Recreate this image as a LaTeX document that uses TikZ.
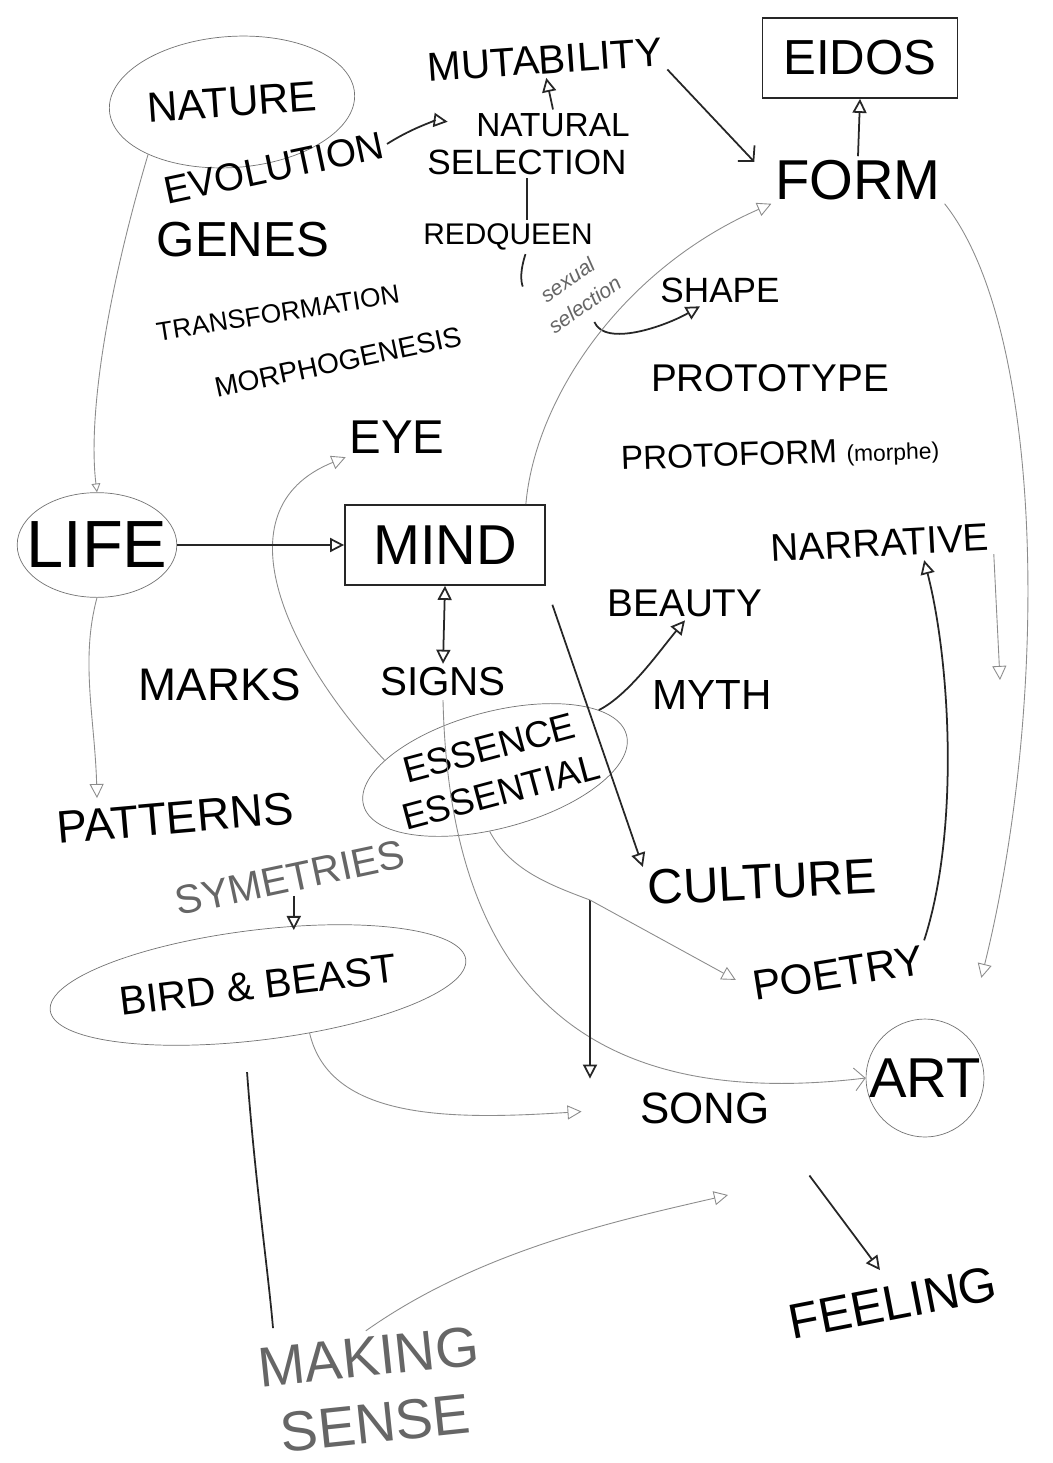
\documentclass[tikz,border=0pt]{standalone}
\usepackage{fontspec}
\setmainfont{Liberation Sans}
\usetikzlibrary{arrows.meta,shapes.geometric}

\begin{document}
\begin{tikzpicture}[
    x=0.02cm, y=-0.02cm,
    word/.style={font=\fontsize{#1}{#1}\selectfont, inner sep=2pt},
    faint/.style={text=black!60},
    ink/.style={draw=black!85, line width=1pt},
    pencil/.style={draw=black!45, line width=0.5pt},
    tri/.style={-{Triangle[open, length=8pt, width=8pt]}},
    dtri/.style={{Triangle[open, length=8pt, width=8pt]}-{Triangle[open, length=8pt, width=8pt]}},
    barb/.style={-{Straight Barb[length=6pt, width=13pt]}}
]
    \useasboundingbox (0,0) rectangle (1052,1463);
    \fill[white] (0,0) rectangle (1052,1463);

    % Nodes, top
    \node[word=24, draw=black!55, ellipse, inner xsep=1pt, inner ysep=18pt, rotate=4] (nature) at (232,102) {NATURE};
    \node[word=22, rotate=12] (evolution) at (274,168) {EVOLUTION};
    \node[word=28] (genes) at (243,240) {GENES};
    \node[word=15, rotate=9] (transf) at (278,313) {TRANSFORMATION};
    \node[word=16, rotate=12] (morpho) at (338,362) {MORPHOGENESIS};
    \node[word=23, rotate=4] (mutab) at (545,60) {MUTABILITY};
    \node[word=19] (natural) at (553,125) {NATURAL};
    \node[word=20] (selection) at (527,162) {SELECTION};
    \node[word=17] (redqueen) at (508,237) {REDQUEEN};
    \node[faint, rotate=35, align=center, inner sep=1pt, font=\fontsize{12}{17}\selectfont\itshape] (sexsel) at (576,292) {sexual\\selection};
    \node[word=20] (shape) at (720,290) {SHAPE};
    \node[word=28, draw=black!85, line width=1pt, minimum width=3.9cm, minimum height=1.6cm] (eidos) at (860,58) {EIDOS};
    \node[word=32] (form) at (858,180) {FORM};
    \node[word=22] (proto) at (770,378) {PROTOTYPE};
    \node[word=19, rotate=2] (protoform) at (780,455) {PROTOFORM {\fontsize{13}{13}\selectfont(morphe)}};

    % Nodes, middle
    \node[word=27] (eye) at (397,437) {EYE};
    \node[word=38, draw=black!55, ellipse, inner xsep=-8pt, inner ysep=8pt] (life) at (97,545) {LIFE};
    \node[word=32, draw=black!85, line width=1pt, minimum width=4cm, minimum height=1.6cm] (mind) at (445,545) {MIND};
    \node[word=22, rotate=3] (narrative) at (880,543) {NARRATIVE};
    \node[word=22] (beauty) at (685,603) {BEAUTY};
    \node[word=26] (marks) at (220,685) {MARKS};
    \node[word=23] (signs) at (443,682) {SIGNS};
    \node[word=24] (myth) at (712,695) {MYTH};
    \node[draw=black!55, ellipse, rotate=15, align=center, inner xsep=-3pt, inner ysep=3pt, font=\fontsize{21}{26}\selectfont] (essence) at (495,770) {ESSENCE\\ESSENTIAL};
    \node[word=26, rotate=5] (patterns) at (175,818) {PATTERNS};
    \node[word=23, faint, rotate=12] (symet) at (290,878) {SYMETRIES};
    \node[word=23, draw=black!55, ellipse, inner xsep=5pt, inner ysep=14pt, rotate=7] (bird) at (258,985) {BIRD \& BEAST};
    \node[word=28, rotate=3] (culture) at (762,882) {CULTURE};
    \node[word=24, rotate=9] (poetry) at (838,973) {POETRY};
    \node[word=32, draw=black!55, circle, inner sep=0pt] (art) at (925,1078) {ART};
    \node[word=25] (song) at (705,1108) {SONG};

    % Nodes, bottom
    \node[word=28, rotate=11] (feeling) at (893,1303) {FEELING};
    \node[faint, align=center, rotate=6, font=\fontsize{32}{38}\selectfont] (making) at (372,1390) {MAKING\\SENSE};
    \coordinate (fork) at (590,900);
    \coordinate (narr end) at (1000,680);
    \coordinate (sense tip) at (728,1195);

    % Arrows
    \draw[pencil, -{Triangle[open, length=5pt, width=5pt]}] (nature.208) .. controls (105,300) and (88,420) .. (life.north);
    \draw[ink, tri, shorten >=0.5cm] (evolution.east) to[bend left=20] (natural.west);
    \draw[ink, tri] (natural.north) -- (mutab.south);
    \draw[ink, barb, shorten >=0.5cm] (mutab.south east) -- (form.west);
    \draw[ink, tri] (form.north) -- (eidos.south);
    \draw[ink] (selection.south) -- (selection.south |- redqueen.north);
    \draw[ink, shorten >=6pt] ([xshift=0.35cm]redqueen.south) to[bend right=20] (sexsel.150);
    \draw[ink, tri, shorten <=6pt] (sexsel.south) .. controls +(15,35) and +(-35,20) .. ([xshift=-0.4cm]shape.south);
    \draw[pencil, tri] ([xshift=-0.4cm]mind.north east) .. controls (535,400) and (620,270) .. (form.south west);
    \draw[pencil, tri] (essence.160) .. controls (290,660) and (215,510) .. (eye.south west);
    \draw[ink, tri] (life.east) -- (mind.west);
    \draw[pencil, tri] (life.south) .. controls (80,660) and (95,720) .. (life.south |- patterns.north);
    \draw[ink, dtri] (mind.south) -- (signs.north);
    \draw[ink, tri] (essence.15) .. controls +(30,-15) and +(-25,30) .. (beauty.south);
    \draw[ink, tri, shorten <=0.4cm] (mind.south east) -- (culture.north west);
    \draw[pencil, barb] (signs.south) .. controls (450,1000) and (600,1110) .. (art.west);
    \draw[pencil] (essence.-110) .. controls (510,870) and (550,885) .. (fork);
    \draw[ink, tri, shorten >=0.2cm] (fork) -- (song.north west -| fork);
    \draw[pencil, tri, shorten >=0.3cm] (fork) -- (poetry.west);
    \draw[ink, tri] (poetry.north east) .. controls (960,830) and (950,660) .. (poetry.north east |- narrative.south);
    \draw[pencil, tri] (narrative.south east) -- (narr end);
    \draw[pencil, tri, shorten >=1.2cm] (form.south east) .. controls (1045,330) and (1050,700) .. (art.north east);
    \draw[ink, tri] (symet.south) -- (symet.south |- bird.north);
    \draw[pencil, tri, shorten >=1.1cm] (bird.-50) .. controls (330,1120) and (450,1120) .. (song.west);
    \draw[ink, shorten <=0.6cm, shorten >=0.3cm] (bird.-110) .. controls (255,1180) and (268,1270) .. ([xshift=0.5cm]making.north west);
    \draw[pencil, tri] (making.north) .. controls (480,1250) and (620,1220) .. (sense tip);
    \draw[ink, tri, shorten <=1.2cm, shorten >=0.3cm] (song.south east) -- (feeling.north);
\end{tikzpicture}
\end{document}
